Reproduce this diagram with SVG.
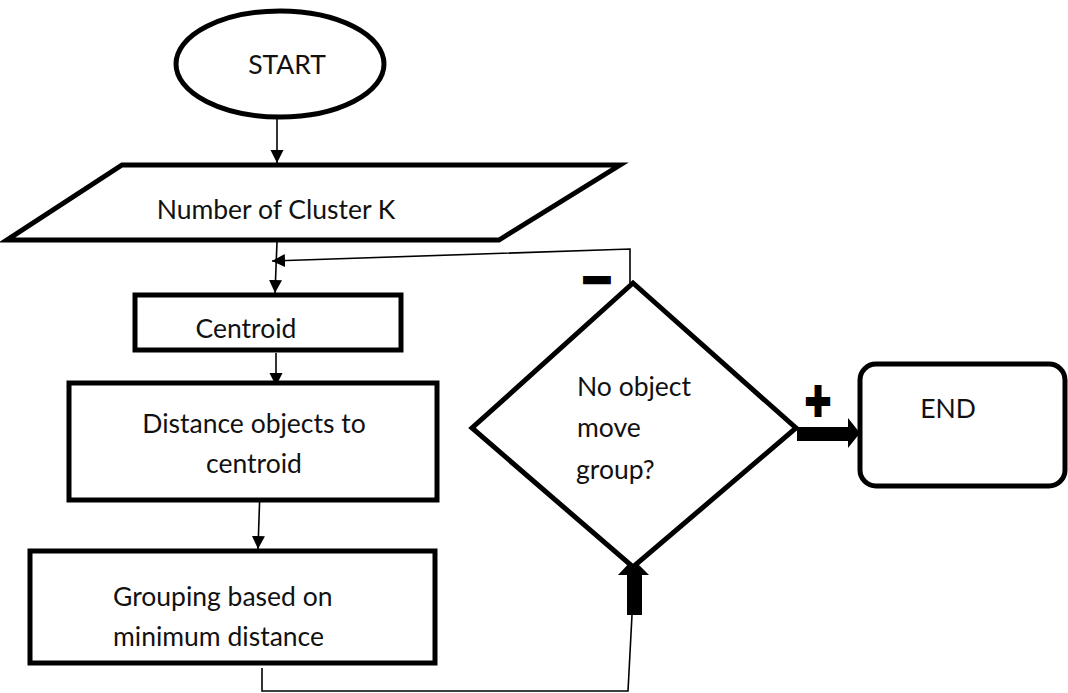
<svg xmlns="http://www.w3.org/2000/svg" width="1068" height="693" viewBox="0 0 1068 693">
  <style>
    .shape { fill: #ffffff; stroke: #000000; stroke-width: 5; stroke-linejoin: miter; }
    .lbl { font-family: Lato, "Open Sans", "Liberation Sans", sans-serif; font-size: 26.5px; fill: #111111; }
    .mid { text-anchor: middle; }
    .wire { fill: none; stroke: #000000; stroke-width: 1.6; }
    .sign { font-family: "DejaVu Sans", sans-serif; font-weight: bold; fill: #000000; stroke: #000000; }
  </style>
  <defs>
    <marker id="tip" markerUnits="userSpaceOnUse" markerWidth="14" markerHeight="14" refX="13" refY="6.5" orient="auto">
      <path d="M0,0 L13,6.5 L0,13 Z" fill="#000000"/>
    </marker>
  </defs>
  <rect width="1068" height="693" fill="#ffffff"/>

  <!-- connectors -->
  <g id="connectors">
    <line class="wire" x1="277" y1="118" x2="277" y2="163" marker-end="url(#tip)"/>
    <line class="wire" x1="277" y1="242" x2="275" y2="293" marker-end="url(#tip)"/>
    <polyline class="wire" points="630,283 630,249 272,261" marker-end="url(#tip)"/>
    <line class="wire" x1="276" y1="353" x2="276" y2="386" marker-end="url(#tip)"/>
    <line class="wire" x1="260" y1="489" x2="258" y2="549" marker-end="url(#tip)"/>
    <polyline class="wire" points="262,668 262,691 628,691 632,615"/>
    <!-- bold arrow into the decision from below -->
    <polygon points="627,615 642,615 642,575 649,575 633,559 618,575 627,575" fill="#000000"/>
    <!-- bold arrow from the decision to END -->
    <polygon points="797,427 848,427 848,418 860,433 848,448 848,441 797,441" fill="#000000"/>
    <!-- branch signs -->
    <text class="sign" x="597" y="292" font-size="38" stroke-width="4" text-anchor="middle">−</text>
    <text class="sign" transform="translate(818,415) scale(1,1.3)" font-size="34" stroke-width="3" text-anchor="middle">+</text>
  </g>

  <g id="start">
    <ellipse class="shape" cx="280" cy="64" rx="104" ry="53"/>
    <text class="lbl mid" x="287" y="74">START</text>
  </g>

  <g id="input-k">
    <polygon class="shape" points="122,165 620,165 499,240 7,240"/>
    <text class="lbl mid" x="276" y="219">Number of Cluster K</text>
  </g>

  <g id="centroid">
    <rect class="shape" x="135" y="295" width="266" height="55"/>
    <text class="lbl mid" x="246" y="338">Centroid</text>
  </g>

  <g id="distance">
    <rect class="shape" x="69" y="383" width="368" height="117"/>
    <text class="lbl mid" x="254" y="433">Distance objects to</text>
    <text class="lbl mid" x="254" y="473">centroid</text>
  </g>

  <g id="grouping">
    <rect class="shape" x="30" y="551" width="405" height="112"/>
    <text class="lbl" x="113" y="606">Grouping based on</text>
    <text class="lbl" x="113" y="646">minimum distance</text>
  </g>

  <g id="decision">
    <polygon class="shape" points="633,283 796,428 633,567 472,428"/>
    <text class="lbl" x="577" y="396">No object</text>
    <text class="lbl" x="577" y="437">move</text>
    <text class="lbl" x="576" y="479">group?</text>
  </g>

  <g id="end">
    <rect class="shape" x="860" y="364" width="205" height="122" rx="16" ry="16"/>
    <text class="lbl mid" x="948" y="418">END</text>
  </g>
</svg>
